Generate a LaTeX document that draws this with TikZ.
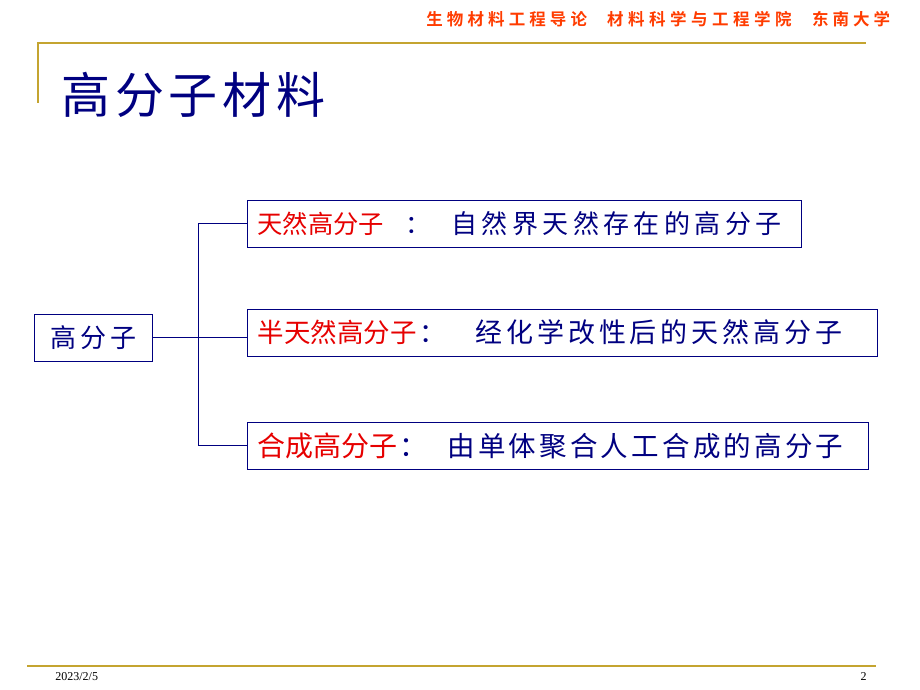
\documentclass[tikz,border=0pt]{standalone}
\usepackage{fontspec}
\setmainfont{Liberation Serif}
\newfontfamily\cjk{Noto Sans CJK SC}
\newfontfamily\cjkhead{Noto Sans CJK SC Bold}
\usetikzlibrary{positioning}
\definecolor{navy}{RGB}{0,0,128}
\definecolor{hired}{RGB}{230,0,0}
\definecolor{headred}{RGB}{255,60,0}
\definecolor{gold}{RGB}{196,164,48}
% set each character in a cell of fixed width
\newlength\cellw
\def\spreadloop#1{\ifx#1\relax\else\makebox[\cellw][l]{#1}\expandafter\spreadloop\fi}
\newcommand\spread[2]{\setlength\cellw{#1}\spreadloop#2\relax}
% red head word, blue colon, blue rest
\newcommand\kindtext[7]{\fontsize{#1}{#1}\selectfont
  \textcolor{hired}{\spread{#1pt}{#2}}\makebox[#4][l]{\hspace{#3}：}%
  \fontsize{#5}{#5}\selectfont\spread{#6}{#7}}

\begin{document}
\begin{tikzpicture}[x=1pt,y=-1pt,thick,
  rule/.style={gold,line width=2pt},
  box/.style={draw=navy,line width=1pt,minimum height=47pt,inner xsep=10pt,inner ysep=0pt,anchor=west,align=left,font=\cjk,text=navy},
  link/.style={navy,line width=1pt}]
\useasboundingbox (0,0) rectangle (920,690);
% header and footer
\draw[rule] (38,103) -- (38,43) -- (866,43);
\draw[rule] (27,666) -- (876,666);
\node[anchor=west,text=headred,font=\cjkhead\fontsize{16.5}{17}\selectfont,inner sep=0pt] (head) at (426,19)
  {\spread{20.6pt}{生物材料工程导论}\hspace{16pt}\spread{21pt}{材料科学与工程学院}\hspace{16pt}\spread{20.5pt}{东南大学}};
\node[anchor=west,text=navy,font=\cjk\fontsize{49}{52}\selectfont,inner sep=0pt] (title) at (61,95)
  {\spread{53.7pt}{高分子材}料};
\node[anchor=west,font=\fontsize{12}{13}\selectfont,inner sep=0pt] (date) at (55,677) {2023/2/5};
\node[anchor=east,font=\fontsize{12}{13}\selectfont,inner sep=0pt] (page) at (867,677) {2};
% tree
\node[box,minimum width=118pt,align=center,font=\cjk\fontsize{26}{28}\selectfont] (root) at (34,337.5)
  {\spread{30.5pt}{高分}子};
\node[box,text width=534pt] (nat) at (247,223.5)
  {\kindtext{25.3}{天然高分子}{21pt}{67.5pt}{26}{30.4pt}{自然界天然存在的高分子}};
\node[box,text width=610pt] (semi) at (247,332.5)
  {\kindtext{26.5}{半天然高分子}{3pt}{59pt}{27}{30.9pt}{经化学改性后的天然高分子}};
\node[box,text width=601pt] (syn) at (247,445.5)
  {\kindtext{28}{合成高分子}{2pt}{50pt}{27.5}{30.7pt}{由单体聚合人工合成的高分子}};
\coordinate (fork) at (198,337);
\draw[link] (root.east |- fork) -- (fork -| semi.west);
\draw[link] (nat.west -| fork) -- (nat.west);
\draw[link] (syn.west -| fork) -- (syn.west);
\draw[link] (nat.west -| fork) -- (syn.west -| fork);
\end{tikzpicture}
\end{document}
